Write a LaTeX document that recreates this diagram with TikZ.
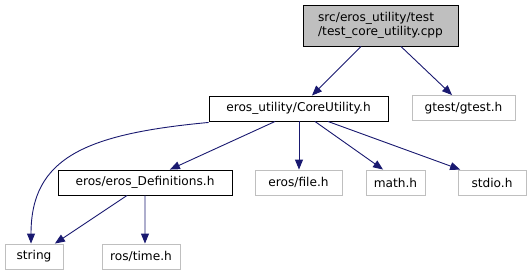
\documentclass[tikz,border=0pt]{standalone}
\usepackage{fontspec}
\setmainfont{DejaVu Sans}
\usepackage{xcolor}
\usepackage{tikz}
\usetikzlibrary{arrows.meta}

\definecolor{edgeblue}{HTML}{191970}
\definecolor{grey75}{HTML}{BFBFBF}

\begin{document}
\begin{tikzpicture}[
    x=1bp, y=-1bp,
    font=\fontsize{12.2}{14}\selectfont,
    box/.style={draw, align=center, inner sep=2pt, minimum height=25bp,
      line width=0.9bp},
    extbox/.style={box, draw=grey75},
    arr/.style={-{Triangle[length=10bp, width=8bp]}, edgeblue, line width=0.9bp},
  ]
    \useasboundingbox (0,0) rectangle (531,276);

    % the file itself and what it pulls in
    \node[box, fill=grey75, align=left, minimum width=155bp,
      minimum height=41bp] (test) at (380.5,25.5)
      {src/eros\_utility/test\\/test\_core\_utility.cpp};
    \node[box, minimum width=179bp] (core) at (298.5,108.5)
      {eros\_utility/CoreUtility.h};
    \node[extbox, minimum width=103bp] (gtest) at (463.5,108) {gtest/gtest.h};

    % headers of CoreUtility.h
    \node[box, minimum width=174bp] (defs) at (145,182.5)
      {eros/eros\_Definitions.h};
    \node[extbox, minimum width=87bp] (file) at (298.5,182.5) {eros/file.h};
    \node[extbox, minimum width=59bp] (math) at (395.5,182.5) {math.h};
    \node[extbox, minimum width=68bp] (stdio) at (492,182.5) {stdio.h};

    % bottom row
    \node[extbox, minimum width=58bp] (string) at (34,256.5) {string};
    \node[extbox, minimum width=78bp] (rostime) at (141,256.5) {ros/time.h};

    \draw[arr] ([xshift=-19.5]test.south) -- ([xshift=13.5]core.north);
    \draw[arr] ([xshift=20.5]test.south) -- ([xshift=-11.5]gtest.north);

    \draw[arr] ([yshift=-1]core.south west)
      .. controls (85,134) and (31,158) .. ([xshift=-3]string.north);
    \draw[arr] ([xshift=-23.5]core.south) -- ([xshift=25]defs.north);
    \draw[arr] ([xshift=0.5]core.south) -- ([xshift=0.5]file.north);
    \draw[arr] ([xshift=16.5]core.south) -- ([xshift=-12.5]math.north);
    \draw[arr] ([xshift=29.5]core.south) -- ([xshift=-32]stdio.north);

    \draw[arr] ([xshift=-18]defs.south) -- ([xshift=21]string.north);
    \draw[arr] (defs.south) -- ([xshift=4]rostime.north);
\end{tikzpicture}
\end{document}
